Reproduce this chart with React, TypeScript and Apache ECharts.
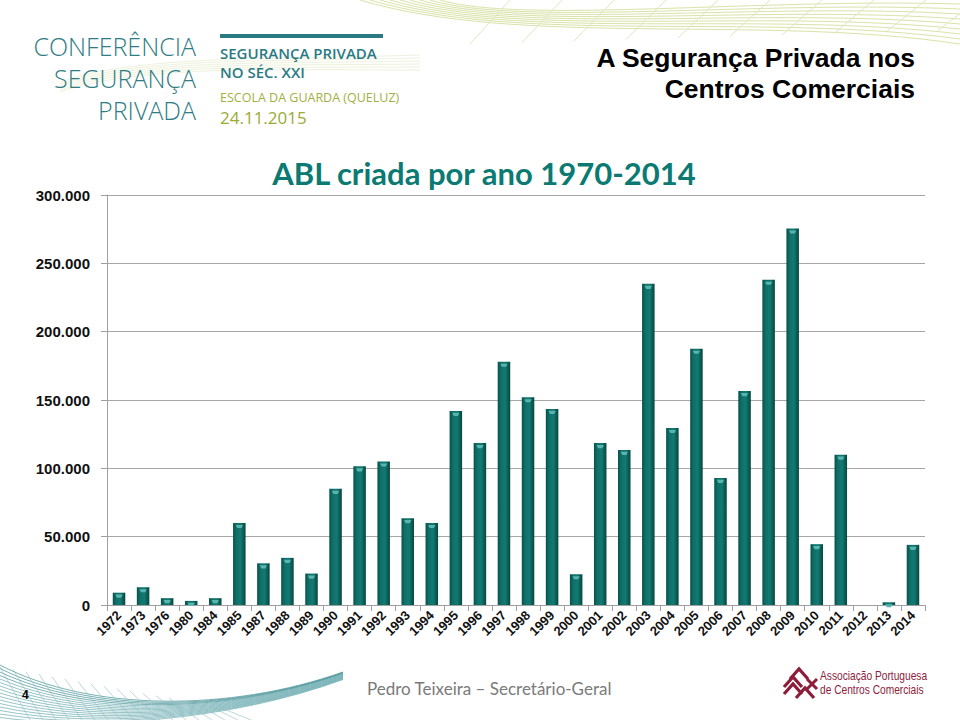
import React, { useEffect, useRef } from "react";
import * as echarts from "echarts";

const years = [
  "1972", "1973", "1976", "1980", "1984", "1985", "1987", "1988", "1989", "1990",
  "1991", "1992", "1993", "1994", "1995", "1996", "1997", "1998", "1999", "2000",
  "2001", "2002", "2003", "2004", "2005", "2006", "2007", "2008", "2009", "2010",
  "2011", "2012", "2013", "2014",
];
const ablValues = [
  9000, 13000, 5000, 3000, 5000, 60000, 30500, 34500, 23000, 85000,
  101500, 105000, 63500, 60000, 142000, 118500, 178000, 152000, 143500, 22500,
  118500, 113500, 235000, 129500, 187500, 93000, 156500, 238000, 275500, 44500,
  110000, 0, 2000, 44000,
];
const yTicks = { min: 0, max: 300000, interval: 50000 };
const chartTitle = "ABL criada por ano 1970-2014";
const headerLines = ["A Segurança Privada nos", "Centros Comerciais"];
const logoLeft = ["CONFERÊNCIA", "SEGURANÇA", "PRIVADA"];
const logoRight = ["SEGURANÇA PRIVADA", "NO SÉC. XXI", "ESCOLA DA GUARDA (QUELUZ)", "24.11.2015"];
const footerText = "Pedro Teixeira – Secretário-Geral";
const apccLines = ["Associação Portuguesa", "de Centros Comerciais"];

function decorations(): any[] {
  const els: any[] = [];
  // top-right pale green mesh
  for (let i = 0; i < 9; i++) {
    els.push({
      type: "bezierCurve", silent: true, z: 0,
      shape: {
        x1: 360 + i * 10, y1: 0,
        cpx1: 520, cpy1: 48 - i * 3,
        cpx2: 760, cpy2: 14 - i * 2,
        x2: 960, y2: 44 - i * 5,
      },
      style: { stroke: "#d9e3a8", lineWidth: 1, fill: null },
    });
  }
  for (let i = 0; i < 10; i++) {
    els.push({
      type: "line", silent: true, z: 0,
      shape: { x1: 470 + i * 52, y1: 44 - i * 1.5, x2: 510 + i * 52, y2: 0 },
      style: { stroke: "#dfe7bd", lineWidth: 1 },
    });
  }
  // faint swoosh behind logo
  for (let i = 0; i < 6; i++) {
    els.push({
      type: "bezierCurve", silent: true, z: 0,
      shape: {
        x1: 60, y1: 82 + i * 2,
        cpx1: 140, cpy1: 55 + i * 2,
        cpx2: 260, cpy2: 60 + i * 2,
        x2: 420, y2: 55 + i * 3,
      },
      style: { stroke: "#eef2dc", lineWidth: 1, fill: null },
    });
  }
  // bottom-left teal wave
  for (let i = 0; i < 16; i++) {
    els.push({
      type: "bezierCurve", silent: true, z: 0,
      shape: {
        x1: 0, y1: 665 + i * 3.5,
        cpx1: 90, cpy1: 712 + i * 1.2,
        cpx2: 230, cpy2: 712 + i * 0.6,
        x2: 343, y2: 672 + i * 0.5,
      },
      style: { stroke: i < 4 ? "#3f8e94" : "#6aaab0", lineWidth: 0.7, fill: null },
    });
  }
  for (let i = 0; i < 18; i++) {
    els.push({
      type: "line", silent: true, z: 0,
      shape: { x1: i * 13, y1: 667 + i * 2.4, x2: 30 + i * 13, y2: 720 },
      style: { stroke: "#8fbfc3", lineWidth: 0.6 },
    });
  }
  return els;
}

const txt = (x: number, y: number, text: string, align: string, fill: string, font: string, lh: number, extra: any = {}) => ({
  type: "text", x, y, z: 10, ...extra,
  style: { text, align, verticalAlign: "middle", fill, font, lineHeight: lh },
});

export default function App() {
  const ref = useRef<HTMLDivElement>(null);
  useEffect(() => {
    if (!ref.current) return;
    const chart = echarts.init(ref.current, undefined, { renderer: "svg" });
    const barGrad = new echarts.graphic.LinearGradient(0, 0, 1, 0, [
      { offset: 0, color: "#07504b" },
      { offset: 0.25, color: "#0f6f68" },
      { offset: 0.6, color: "#127a72" },
      { offset: 1, color: "#06463f" },
    ]);
    const option: any = {
      animation: false,
      backgroundColor: "#ffffff",
      grid: { left: 107, right: 35, top: 195, bottom: 115, containLabel: false },
      xAxis: {
        type: "category",
        data: years,
        axisLine: { lineStyle: { color: "#a0a0a0", width: 1 } },
        axisTick: { show: true, length: 6, inside: false, lineStyle: { color: "#a0a0a0" } },
        axisLabel: {
          interval: 0,
          rotate: 45,
          margin: 8,
          color: "#111",
          fontFamily: "Liberation Sans, Arial, sans-serif",
          fontWeight: "bold",
          fontSize: 13,
        },
      },
      yAxis: {
        type: "value",
        min: yTicks.min,
        max: yTicks.max,
        interval: yTicks.interval,
        axisLine: { show: true, lineStyle: { color: "#a0a0a0", width: 1 } },
        axisTick: { show: true, length: 6, lineStyle: { color: "#a0a0a0" } },
        splitLine: { show: true, lineStyle: { color: "#a6a6a6", width: 1 } },
        axisLabel: {
          margin: 17,
          color: "#111",
          fontFamily: "Liberation Sans, Arial, sans-serif",
          fontWeight: "bold",
          fontSize: 15,
          formatter: (v: number) => (v === 0 ? "0" : `${Math.round(v / 1000)}.000`),
        },
      },
      series: [
        {
          type: "bar",
          data: ablValues,
          barWidth: "52%",
          itemStyle: { color: barGrad, borderWidth: 0 },
          z: 2,
        },
        {
          type: "pictorialBar",
          data: ablValues.map((v) => (v > 0 ? v : null)),
          symbol: "path://M0,0 L10,0 L8,3 L2,3 Z",
          symbolSize: ["44%", 3],
          symbolPosition: "end",
          symbolOffset: [0, 2],
          itemStyle: { color: "#58b5ad" },
          z: 3,
          silent: true,
        },
      ],
      graphic: [
        ...decorations(),
        // logo left block
        txt(196, 46, logoLeft[0], "right", "#2f7c84", "300 25px 'Open Sans', Lato, sans-serif", 25),
        txt(196, 78, logoLeft[1], "right", "#2f7c84", "300 25px 'Open Sans', Lato, sans-serif", 25),
        txt(196, 110, logoLeft[2], "right", "#2f7c84", "300 25px 'Open Sans', Lato, sans-serif", 25),
        { type: "rect", z: 10, shape: { x: 220, y: 34, width: 163, height: 4 }, style: { fill: "#2a7a84" } },
        txt(220, 53, logoRight[0], "left", "#2a7a84", "600 15px 'Open Sans', sans-serif", 15),
        txt(220, 72, logoRight[1], "left", "#2a7a84", "600 15px 'Open Sans', sans-serif", 15),
        txt(220, 97, logoRight[2], "left", "#a3b040", "12.5px 'Open Sans', sans-serif", 11),
        txt(220, 117, logoRight[3], "left", "#9aab36", "17px 'Open Sans', sans-serif", 15),
        // header title
        txt(915, 58, headerLines[0], "right", "#000", "bold 26.5px 'Liberation Sans', Arial, sans-serif", 27),
        txt(915, 89, headerLines[1], "right", "#000", "bold 26.5px 'Liberation Sans', Arial, sans-serif", 27),
        // chart title
        txt(484, 173, chartTitle, "center", "#0b7a72", "bold 31px Lato, 'Open Sans', sans-serif", 31),
        // footer
        txt(22, 695, "4", "left", "#000", "bold 12px 'Liberation Sans', Arial, sans-serif", 12),
        txt(367, 688, footerText, "left", "#7a7a7a", "17px Lato, 'Open Sans', sans-serif", 17),
        // APCC logo
        {
          type: "group", x: 799, y: 683, z: 10,
          children: [
            { type: "polyline", shape: { points: [[-15, 4], [-6, -6], [3, 4]] }, style: { stroke: "#8e1d3c", lineWidth: 3.2, fill: null } },
            { type: "polyline", shape: { points: [[-15, 11], [-6, 1], [3, 11]] }, style: { stroke: "#8e1d3c", lineWidth: 3.2, fill: null } },
            { type: "polyline", shape: { points: [[-9, -4], [0, -14], [9, -4]] }, style: { stroke: "#8e1d3c", lineWidth: 3.2, fill: null } },
            { type: "polyline", shape: { points: [[-3, 15], [6, 5], [15, 15]] }, style: { stroke: "#8e1d3c", lineWidth: 3.2, fill: null } },
            { type: "line", shape: { x1: 8, y1: -4, x2: 18, y2: 6 }, style: { stroke: "#8e1d3c", lineWidth: 3 } },
            { type: "line", shape: { x1: 18, y1: -4, x2: 8, y2: 6 }, style: { stroke: "#8e1d3c", lineWidth: 3 } },
          ],
        },
        txt(820, 676, apccLines[0], "left", "#8e1d3c", "12px 'Liberation Sans', Arial, sans-serif", 12, { scaleX: 0.85 }),
        txt(820, 690, apccLines[1], "left", "#8e1d3c", "12px 'Liberation Sans', Arial, sans-serif", 12, { scaleX: 0.85 }),
      ],
    };
    chart.setOption(option);
    return () => chart.dispose();
  }, []);
  return (
    <div
      ref={ref}
      style={{ position: "fixed", left: 0, top: 0, width: 960, height: 720, background: "#fff" }}
    />
  );
}
